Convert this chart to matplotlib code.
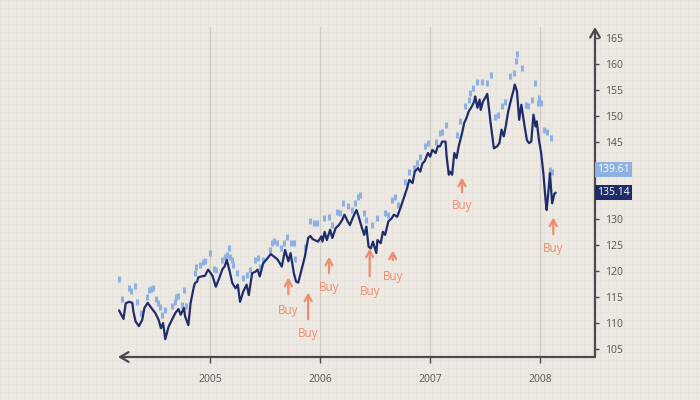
import matplotlib
matplotlib.use('Agg')
import matplotlib.pyplot as plt
import matplotlib.transforms as mtransforms

plt.rcParams['font.family'] = ['Open Sans', 'DejaVu Sans']

''' Data read off the chart (decimal years, price) '''

price_t = [2004.17, 2004.21, 2004.23, 2004.26, 2004.29, 2004.30, 2004.32, 2004.35,
           2004.38, 2004.40, 2004.43, 2004.46, 2004.50, 2004.53, 2004.55, 2004.57,
           2004.59, 2004.62, 2004.65, 2004.68, 2004.71, 2004.73, 2004.76, 2004.77,
           2004.80, 2004.82, 2004.85, 2004.86, 2004.88, 2004.89, 2004.92, 2004.95,
           2004.98, 2005.02, 2005.05, 2005.08, 2005.11, 2005.13, 2005.15, 2005.18,
           2005.20, 2005.23, 2005.25, 2005.27, 2005.30, 2005.33, 2005.35, 2005.38,
           2005.41, 2005.43, 2005.45, 2005.48, 2005.52, 2005.55, 2005.58, 2005.61,
           2005.65, 2005.68, 2005.71, 2005.73, 2005.76, 2005.78, 2005.80, 2005.83,
           2005.86, 2005.89, 2005.91, 2005.93, 2005.95, 2005.98, 2006.01, 2006.02,
           2006.04, 2006.06, 2006.09, 2006.11, 2006.14, 2006.17, 2006.20, 2006.22,
           2006.25, 2006.27, 2006.30, 2006.33, 2006.35, 2006.38, 2006.40, 2006.42,
           2006.44, 2006.46, 2006.48, 2006.51, 2006.52, 2006.55, 2006.57, 2006.59,
           2006.62, 2006.65, 2006.67, 2006.70, 2006.73, 2006.76, 2006.79, 2006.81,
           2006.84, 2006.86, 2006.89, 2006.91, 2006.93, 2006.95, 2006.98, 2007.00,
           2007.02, 2007.05, 2007.07, 2007.09, 2007.11, 2007.14, 2007.15, 2007.17,
           2007.18, 2007.20, 2007.22, 2007.24, 2007.26, 2007.29, 2007.31, 2007.33,
           2007.35, 2007.38, 2007.40, 2007.41, 2007.43, 2007.45, 2007.46, 2007.48,
           2007.50, 2007.52, 2007.55, 2007.57, 2007.58, 2007.61, 2007.63, 2007.65,
           2007.67, 2007.69, 2007.71, 2007.74, 2007.76, 2007.77, 2007.79, 2007.81,
           2007.83, 2007.86, 2007.88, 2007.90, 2007.92, 2007.94, 2007.96, 2007.97,
           2007.99, 2008.01, 2008.03, 2008.05, 2008.06, 2008.08, 2008.09, 2008.11,
           2008.13, 2008.14]
price_v = [112.4, 110.8, 113.8, 114.1, 113.9, 112.2, 110.3, 109.4,
           110.6, 112.9, 113.9, 113.0, 111.9, 110.6, 109.0, 110.0,
           106.9, 109.3, 110.6, 111.9, 112.7, 111.6, 112.9, 111.3,
           109.6, 113.8, 117.0, 117.7, 118.0, 118.8, 119.0, 119.1,
           120.3, 119.1, 117.0, 118.6, 120.4, 120.9, 122.2, 119.6,
           117.7, 116.7, 117.4, 114.1, 116.1, 117.4, 115.4, 119.6,
           119.9, 120.3, 119.0, 121.5, 122.5, 123.3, 122.8, 122.3,
           120.9, 124.1, 121.9, 123.5, 119.6, 118.0, 117.8, 120.3,
           122.8, 126.4, 126.8, 126.2, 126.0, 125.7, 126.7, 125.7,
           127.6, 126.0, 128.0, 126.4, 128.3, 128.9, 129.9, 130.9,
           129.6, 128.9, 130.5, 131.8, 130.5, 128.3, 127.0, 128.6,
           124.7, 124.4, 125.7, 123.5, 126.0, 125.4, 127.6, 127.0,
           129.6, 130.2, 130.9, 130.5, 132.2, 134.1, 136.0, 137.6,
           137.0, 139.2, 139.9, 139.2, 140.8, 141.2, 142.8, 142.1,
           143.4, 142.8, 144.1, 144.1, 145.0, 145.0, 142.1, 138.6,
           139.2, 138.6, 142.8, 141.8, 144.1, 146.6, 148.6, 149.5,
           150.8, 151.8, 152.7, 153.7, 151.5, 153.1, 151.1, 152.7,
           153.4, 154.2, 148.6, 145.3, 143.7, 144.1, 144.7, 147.3,
           146.0, 148.2, 150.8, 153.4, 155.0, 156.0, 154.7, 149.2,
           152.1, 147.9, 145.3, 144.7, 145.0, 150.2, 147.9, 148.9,
           145.3, 142.8, 138.9, 133.8, 131.8, 136.3, 138.9, 133.1,
           134.9, 135.1]

sar_t = [2004.17, 2004.20, 2004.26, 2004.28, 2004.31, 2004.33, 2004.37, 2004.42,
         2004.44, 2004.46, 2004.48, 2004.51, 2004.52, 2004.54, 2004.56, 2004.59,
         2004.65, 2004.68, 2004.69, 2004.71, 2004.74, 2004.76, 2004.78, 2004.86,
         2004.87, 2004.91, 2004.93, 2004.95, 2005.00, 2005.03, 2005.05, 2005.11,
         2005.13, 2005.15, 2005.17, 2005.18, 2005.20, 2005.21, 2005.24, 2005.30,
         2005.33, 2005.36, 2005.41, 2005.43, 2005.45, 2005.48, 2005.54, 2005.56,
         2005.58, 2005.61, 2005.64, 2005.67, 2005.70, 2005.73, 2005.76, 2005.77,
         2005.86, 2005.91, 2005.94, 2005.97, 2006.03, 2006.08, 2006.11, 2006.15,
         2006.18, 2006.21, 2006.25, 2006.29, 2006.32, 2006.34, 2006.36, 2006.40,
         2006.42, 2006.47, 2006.52, 2006.59, 2006.62, 2006.65, 2006.68, 2006.71,
         2006.77, 2006.81, 2006.85, 2006.88, 2006.91, 2006.95, 2006.98, 2007.05,
         2007.09, 2007.11, 2007.14, 2007.24, 2007.27, 2007.32, 2007.35, 2007.36,
         2007.39, 2007.43, 2007.47, 2007.52, 2007.55, 2007.59, 2007.62, 2007.65,
         2007.68, 2007.73, 2007.76, 2007.78, 2007.79, 2007.84, 2007.87, 2007.89,
         2007.93, 2007.95, 2007.98, 2007.99, 2008.01, 2008.04, 2008.06, 2008.09,
         2008.10, 2008.11]
sar_v = [118.5, 114.6, 116.7, 116.1, 117.2, 114.1, 111.9, 115.1,
         116.3, 116.5, 116.7, 114.6, 113.8, 113.0, 111.6, 112.5,
         113.3, 114.1, 115.0, 115.2, 113.5, 116.3, 113.2, 119.6,
         120.8, 121.2, 121.7, 122.0, 123.5, 120.4, 120.3, 122.2,
         122.7, 123.1, 124.4, 122.8, 122.2, 121.2, 119.6, 118.6,
         119.3, 120.3, 122.2, 122.5, 120.9, 122.2, 124.1, 125.4,
         125.9, 125.4, 124.4, 125.4, 126.6, 125.4, 125.4, 122.3,
         124.7, 129.6, 129.3, 129.3, 130.2, 130.5, 128.9, 131.5,
         131.2, 133.1, 132.5, 131.8, 133.1, 134.4, 134.7, 131.2,
         129.9, 128.9, 130.2, 131.2, 130.9, 133.8, 134.4, 132.8,
         137.3, 139.2, 139.9, 140.8, 142.1, 144.1, 144.7, 145.0,
         146.6, 146.9, 148.2, 146.3, 148.9, 151.8, 153.1, 154.4,
         155.3, 156.4, 156.4, 156.3, 157.9, 149.8, 150.2, 151.8,
         152.7, 157.6, 158.2, 160.5, 161.8, 159.2, 152.1, 151.8,
         153.1, 156.3, 152.4, 153.4, 152.4, 147.3, 146.9, 139.6,
         145.6, 139.2]

# buy signals: x, arrow tip, arrow tail, label
buy_t = [2005.71, 2005.89, 2006.08, 2006.45, 2006.66, 2007.29, 2008.12]
buy_tip = [119.3, 116.4, 123.3, 124.9, 124.5, 138.6, 130.9]
buy_tail = [115.0, 110.2, 119.1, 118.5, 121.6, 134.7, 126.6]
buy_text = [112.5, 107.9, 116.8, 116.0, 118.9, 132.6, 124.3]

years = [2005, 2006, 2007, 2008]
yticks = list(range(105, 170, 5))
last_sar = 139.61
last_price = 135.14

bg = '#ECE8E2'
navy = '#1F2C6C'
light_blue = '#8EB1E3'
orange = '#EE8C6E'
axis_col = '#4A4A4A'

fig = plt.figure(figsize=(7, 4), dpi=100)
fig.patch.set_facecolor(bg)

# faint paper grid in the background
bgax = fig.add_axes([0, 0, 1, 1], zorder=-1)
bgax.set_xlim(0, 700)
bgax.set_ylim(400, 0)
for gx in range(0, 701, 8):
    bgax.axvline(gx, color='#E7E3DC', lw=0.5)
for gy in range(0, 401, 8):
    bgax.axhline(gy, color='#E7E3DC', lw=0.5)
bgax.set_facecolor(bg)
bgax.axis('off')

ax = fig.add_axes([0.1686, 0.1075, 0.6814, 0.825])
ax.set_facecolor('none')
ax.set_xlim(2004.16, 2008.5)
ax.set_ylim(103.45, 167.1)

for yr in years:
    ax.axvline(yr, color='#CFCAC3', lw=0.9, zorder=0)

ax.plot(sar_t, sar_v, ls='none', marker='|', ms=5, mew=2.2,
        color=light_blue, zorder=2)
ax.plot(price_t, price_v, color=navy, lw=1.6, zorder=3)

for t, tip, tail, txt in zip(buy_t, buy_tip, buy_tail, buy_text):
    ax.annotate('', xy=(t, tip), xytext=(t, tail),
                arrowprops=dict(arrowstyle='->,head_length=0.45,head_width=0.25',
                                color=orange, lw=1.6))
    ax.text(t, txt, 'Buy', color=orange, fontsize=8.5, ha='center', va='center')

# axes with arrow heads
for s in ax.spines.values():
    s.set_visible(False)
ax.annotate('', xy=(0, 0), xytext=(1, 0), xycoords='axes fraction',
            arrowprops=dict(arrowstyle='->,head_length=0.6,head_width=0.35',
                            color=axis_col, lw=1.6, shrinkA=0, shrinkB=0))
ax.annotate('', xy=(1, 1), xytext=(1, 0), xycoords='axes fraction',
            arrowprops=dict(arrowstyle='->,head_length=0.6,head_width=0.35',
                            color=axis_col, lw=1.6, shrinkA=0, shrinkB=0))

# 135 and 140 are hidden behind the value tags
ax.yaxis.tick_right()
ax.set_yticks(yticks)
ax.set_yticklabels(['' if v in (135, 140) else str(v) for v in yticks])
ax.set_xticks(years)
ax.tick_params(axis='y', length=3, width=1, color=axis_col, pad=4,
               labelsize=7.5, labelcolor='#555555')
ax.tick_params(axis='x', length=4, width=1, color=axis_col, pad=8,
               labelsize=7.5, labelcolor='#555555')

# last value tags
trans = mtransforms.blended_transform_factory(ax.transAxes, ax.transData)
ax.text(1.005, last_sar, f'{last_sar:.2f}', transform=trans, fontsize=7.5,
        color='white', va='center', ha='left',
        bbox=dict(boxstyle='square,pad=0.2', fc=light_blue, ec='none'))
ax.text(1.005, last_price, f'{last_price:.2f}', transform=trans, fontsize=7.5,
        color='white', va='center', ha='left',
        bbox=dict(boxstyle='square,pad=0.2', fc=navy, ec='none'))

plt.savefig('out.png', dpi=100, facecolor=bg)
